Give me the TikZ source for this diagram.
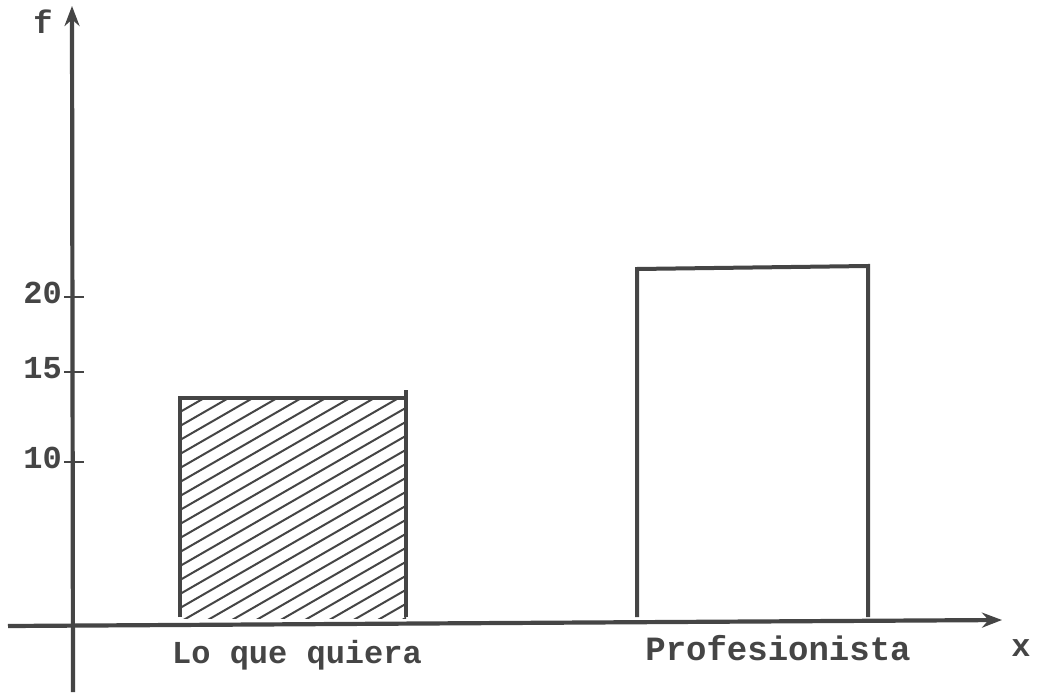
\documentclass[tikz,border=0pt]{standalone}
\usepackage{fontspec}
\setmonofont{Liberation Mono}
\usetikzlibrary{arrows.meta}
\definecolor{ink}{HTML}{454545}
\begin{document}
\begin{tikzpicture}[x=1pt,y=-1pt,
  axis/.style={draw=ink,line width=4.2pt,-{Stealth[length=20pt,width=15pt]}},
  barline/.style={draw=ink,line width=4pt},
  hatch/.style={draw=ink,line width=2pt},
  tickmark/.style={draw=ink,line width=1.8pt},
  lbl/.style={text=ink,font=\ttfamily\bfseries\fontsize{32}{36}\selectfont,inner sep=0pt}]
\useasboundingbox (0,0) rectangle (1039,693);
\fill[white] (0,0) rectangle (1039,693);
% axes
\coordinate (ybot) at (73,692);
\coordinate (ytop) at (72,6);
\coordinate (xl) at (8,626);
\coordinate (xr) at (1002,620);
\draw[axis] (ybot) -- (ytop);
\draw[axis] (xl) -- (xr);
% ticks
\foreach \yy/\t in {297/20,372/15,462/10}{
  \coordinate (t\t) at (64,\yy);
  \draw[tickmark] (t\t) -- ++(20,0);
  \node[lbl,anchor=east] (l\t) at (62,\yy-4) {\t};
}
% hatched bar
\begin{scope}
  \clip (180,398) rectangle (406,618);
  \foreach \k in {0,...,40}{
    \draw[hatch] (180,398+\k*14) -- ++(420,-242);
  }
\end{scope}
\draw[barline] (180,617) -- (180,398) -- (406,398);
\draw[barline] (406,390) -- (406,617);
% open bar
\draw[barline] (637,617) -- (637,269) -- (868,266) -- (868,617);
% labels
\node[lbl] (f) at (43,22) {f};
\node[lbl] (xlab) at (1021,648) {x};
\node[lbl] (c1) at (297,655) {Lo que quiera};
\node[lbl,font=\ttfamily\bfseries\fontsize{34}{38}\selectfont] (c2) at (778,648) {Profesionista};
\end{tikzpicture}
\end{document}
